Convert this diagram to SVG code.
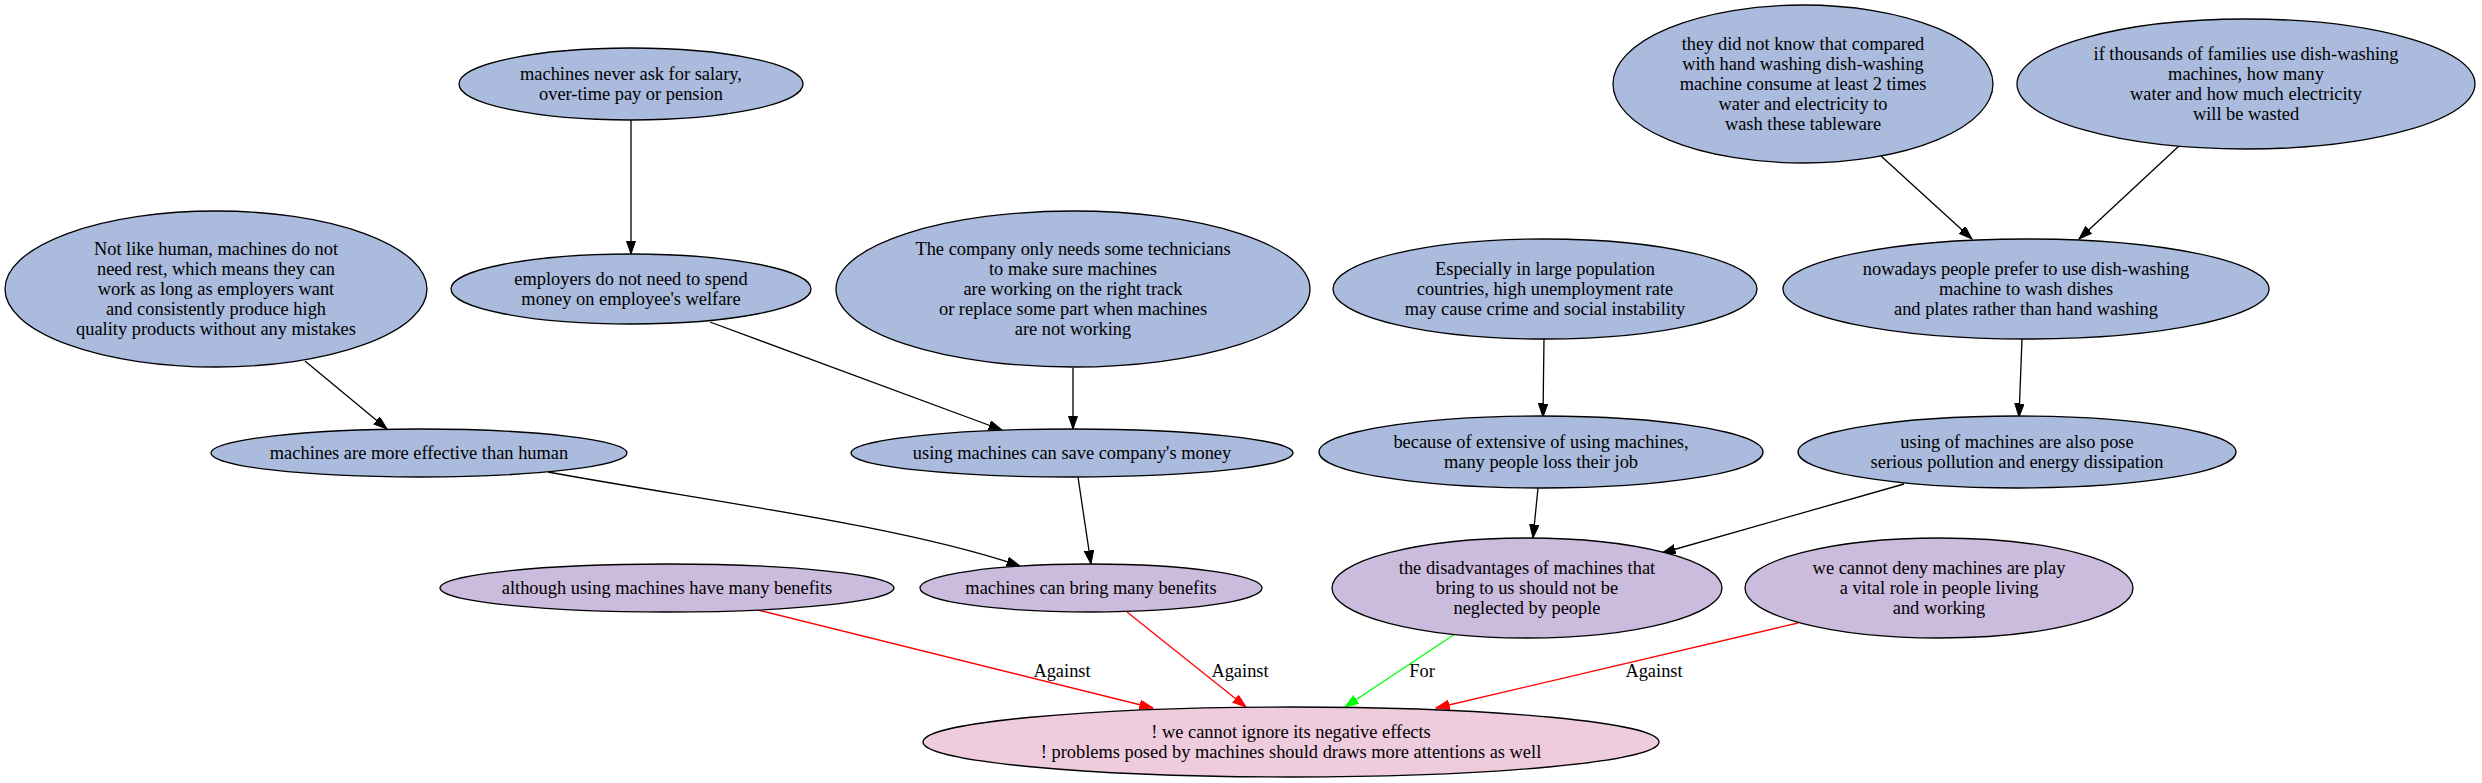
<svg xmlns="http://www.w3.org/2000/svg" width="2482" height="783" viewBox="0 0 2482 783">
<style>
  .bg { fill: #ffffff; }
  ellipse { stroke: #000000; stroke-width: 1.3; }
  .blue { fill: #aabbdd; }
  .purple { fill: #cbbbdd; }
  .pink { fill: #eecbdd; }
  text { font-family: "Liberation Serif", "Times New Roman", serif; font-size: 18.4px; fill: #000000; text-anchor: middle; }
  .e { fill: none; stroke-width: 1.3; }
  .k { stroke: #000000; marker-end: url(#ak); }
  .r { stroke: #ff0000; marker-end: url(#ar); }
  .g { stroke: #00ff00; marker-end: url(#ag); }
</style>
<defs>
  <marker id="ak" markerUnits="userSpaceOnUse" markerWidth="15" markerHeight="11" refX="13.5" refY="4.7" orient="auto" viewBox="0 0 15 11">
    <path d="M0,0 L13.5,4.7 L0,9.4 Z" fill="#000000" stroke="#000000" stroke-width="1"/>
  </marker>
  <marker id="ar" markerUnits="userSpaceOnUse" markerWidth="15" markerHeight="11" refX="13.5" refY="4.7" orient="auto" viewBox="0 0 15 11">
    <path d="M0,0 L13.5,4.7 L0,9.4 Z" fill="#ff0000" stroke="#ff0000" stroke-width="1"/>
  </marker>
  <marker id="ag" markerUnits="userSpaceOnUse" markerWidth="15" markerHeight="11" refX="13.5" refY="4.7" orient="auto" viewBox="0 0 15 11">
    <path d="M0,0 L13.5,4.7 L0,9.4 Z" fill="#00ff00" stroke="#00ff00" stroke-width="1"/>
  </marker>
</defs>
<rect class="bg" x="0" y="0" width="2482" height="783"/>

<g id="edges">
  <path class="e k" d="M631,119 L631,254"/>
  <path class="e k" d="M710,322 L1002,430"/>
  <path class="e k" d="M1073,368 L1073,429"/>
  <path class="e k" d="M305,361 L387,429"/>
  <path class="e k" d="M548,472 C700,500 900,525 1020,566"/>
  <path class="e k" d="M1078,477 L1091,564"/>
  <path class="e k" d="M1544,338 L1543,417"/>
  <path class="e k" d="M1538,488 L1533,538"/>
  <path class="e k" d="M1904,484 L1662,553"/>
  <path class="e k" d="M1881,156 L1972,239"/>
  <path class="e k" d="M2179,146 L2079,239"/>
  <path class="e k" d="M2022,339 L2019,417"/>
  <path class="e r" d="M758,610 L1153,708"/>
  <path class="e r" d="M1127,612 L1246,707"/>
  <path class="e g" d="M1455,634 L1345,707"/>
  <path class="e r" d="M1798,623 L1436,708"/>
  <text x="1062" y="677">Against</text>
  <text x="1240" y="677">Against</text>
  <text x="1422" y="677">For</text>
  <text x="1654" y="677">Against</text>
</g>

<g id="n_never_ask">
  <ellipse class="blue" cx="631" cy="84" rx="172" ry="36"/>
  <text x="631" y="80">machines never ask for salary,</text>
  <text x="631" y="100">over-time pay or pension</text>
</g>
<g id="n_dont_know">
  <ellipse class="blue" cx="1803" cy="84" rx="190" ry="79"/>
  <text x="1803" y="50">they did not know that compared</text>
  <text x="1803" y="70">with hand washing dish-washing</text>
  <text x="1803" y="90">machine consume at least 2 times</text>
  <text x="1803" y="110">water and electricity to</text>
  <text x="1803" y="130">wash these tableware</text>
</g>
<g id="n_thousands">
  <ellipse class="blue" cx="2246" cy="84" rx="229" ry="65"/>
  <text x="2246" y="60">if thousands of families use dish-washing</text>
  <text x="2246" y="80">machines, how many</text>
  <text x="2246" y="100">water and how much electricity</text>
  <text x="2246" y="120">will be wasted</text>
</g>
<g id="n_not_like_human">
  <ellipse class="blue" cx="216" cy="289" rx="211" ry="78"/>
  <text x="216" y="255">Not like human, machines do not</text>
  <text x="216" y="275">need rest, which means they can</text>
  <text x="216" y="295">work as long as employers want</text>
  <text x="216" y="315">and consistently produce high</text>
  <text x="216" y="335">quality products without any mistakes</text>
</g>
<g id="n_employers">
  <ellipse class="blue" cx="631" cy="289" rx="180" ry="35"/>
  <text x="631" y="285">employers do not need to spend</text>
  <text x="631" y="305">money on employee's welfare</text>
</g>
<g id="n_company">
  <ellipse class="blue" cx="1073" cy="289" rx="237" ry="78"/>
  <text x="1073" y="255">The company only needs some technicians</text>
  <text x="1073" y="275">to make sure machines</text>
  <text x="1073" y="295">are working on the right track</text>
  <text x="1073" y="315">or replace some part when machines</text>
  <text x="1073" y="335">are not working</text>
</g>
<g id="n_especially">
  <ellipse class="blue" cx="1545" cy="289" rx="212" ry="50"/>
  <text x="1545" y="275">Especially in large population</text>
  <text x="1545" y="295">countries, high unemployment rate</text>
  <text x="1545" y="315">may cause crime and social instability</text>
</g>
<g id="n_nowadays">
  <ellipse class="blue" cx="2026" cy="289" rx="243" ry="50"/>
  <text x="2026" y="275">nowadays people prefer to use dish-washing</text>
  <text x="2026" y="295">machine to wash dishes</text>
  <text x="2026" y="315">and plates rather than hand washing</text>
</g>
<g id="n_effective">
  <ellipse class="blue" cx="419" cy="453" rx="208" ry="24"/>
  <text x="419" y="459">machines are more effective than human</text>
</g>
<g id="n_save_money">
  <ellipse class="blue" cx="1072" cy="453" rx="221" ry="24"/>
  <text x="1072" y="459">using machines can save company's money</text>
</g>
<g id="n_loss_job">
  <ellipse class="blue" cx="1541" cy="452" rx="222" ry="36"/>
  <text x="1541" y="448">because of extensive of using machines,</text>
  <text x="1541" y="468">many people loss their job</text>
</g>
<g id="n_pollution">
  <ellipse class="blue" cx="2017" cy="452" rx="219" ry="36"/>
  <text x="2017" y="448">using of machines are also pose</text>
  <text x="2017" y="468">serious pollution and energy dissipation</text>
</g>
<g id="n_although">
  <ellipse class="purple" cx="667" cy="588" rx="227" ry="24"/>
  <text x="667" y="594">although using machines have many benefits</text>
</g>
<g id="n_bring_benefits">
  <ellipse class="purple" cx="1091" cy="588" rx="171" ry="24"/>
  <text x="1091" y="594">machines can bring many benefits</text>
</g>
<g id="n_disadvantages">
  <ellipse class="purple" cx="1527" cy="588" rx="195" ry="50"/>
  <text x="1527" y="574">the disadvantages of machines that</text>
  <text x="1527" y="594">bring to us should not be</text>
  <text x="1527" y="614">neglected by people</text>
</g>
<g id="n_cannot_deny">
  <ellipse class="purple" cx="1939" cy="588" rx="194" ry="50"/>
  <text x="1939" y="574">we cannot deny machines are play</text>
  <text x="1939" y="594">a vital role in people living</text>
  <text x="1939" y="614">and working</text>
</g>
<g id="n_conclusion">
  <ellipse class="pink" cx="1291" cy="742" rx="368" ry="35"/>
  <text x="1291" y="738">! we cannot ignore its negative effects</text>
  <text x="1291" y="758">! problems posed by machines should draws more attentions as well</text>
</g>
</svg>
